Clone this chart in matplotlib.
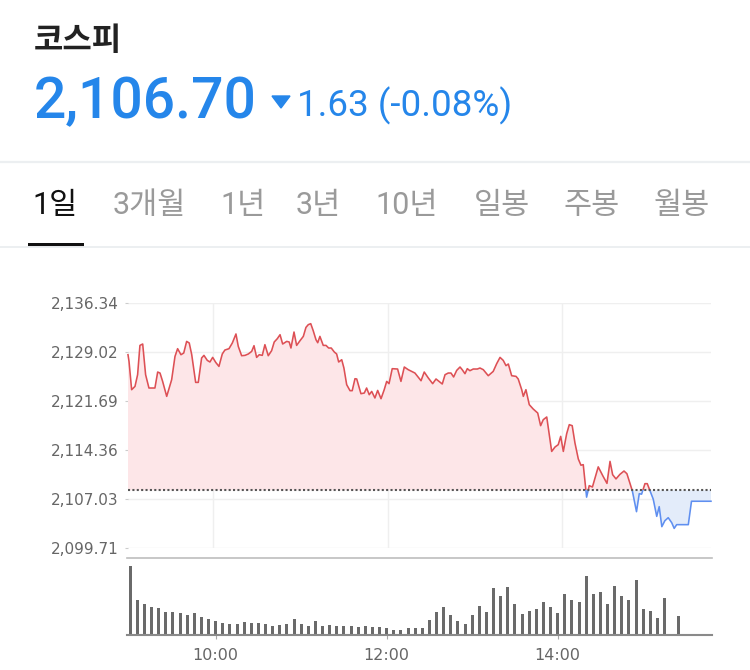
import numpy as np
import matplotlib
matplotlib.use("Agg")
import matplotlib.pyplot as plt
from matplotlib.patches import Rectangle, Polygon
from matplotlib.lines import Line2D

# ---------------- data ----------------
title = "코스피"
price_now = "2,106.70"
change_txt = "1.63 (-0.08%)"
tabs = ["1일", "3개월", "1년", "3년", "10년", "일봉", "주봉", "월봉"]
prev_close = 2108.33
yticks = [2099.71, 2107.03, 2114.36, 2121.69, 2129.02, 2136.34]
ytick_labels = ["2,099.71", "2,107.03", "2,114.36", "2,121.69", "2,129.02", "2,136.34"]
xtick_minutes = [60, 180, 300]          # minutes after 09:00
xtick_labels = ["10:00", "12:00", "14:00"]

# intraday price (minutes after 09:00, index level)
minutes = [1.6, 2.3, 4.1, 6.4, 8.2, 9.8, 11.7, 13.7, 16.0, 20.1, 22.0, 23.6, 25.4, 28.2,
           31.6, 33.9, 35.7, 38.0, 39.9, 41.9, 43.7, 45.4, 48.1, 49.9, 52.2, 53.8, 56.1,
           57.9, 59.8, 61.9, 64.1, 66.4, 68.2, 71.0, 73.3, 75.8, 77.4, 79.7, 82.0, 84.3,
           86.6, 88.2, 90.0, 91.8, 93.9, 95.7, 98.0, 100.3, 102.1, 104.2, 106.1, 107.9,
           110.7, 112.4, 113.6, 115.7, 117.5, 119.8, 122.1, 123.9, 125.5, 127.2, 128.9,
           130.8, 132.0, 133.5, 135.8, 137.7, 139.5, 141.3, 143.4, 145.0, 146.4, 148.5,
           150.0, 151.9, 154.2, 155.7, 157.6, 158.8, 161.7, 164.0, 165.6, 167.4, 169.1,
           171.3, 173.2, 175.5, 177.7, 179.4, 181.0, 183.2, 186.9, 189.2, 191.5, 194.2,
           198.8, 203.0, 205.2, 208.0, 211.0, 213.3, 217.6, 219.5, 221.7, 223.6, 225.4,
           227.5, 229.8, 231.3, 233.2, 234.8, 236.6, 238.9, 241.7, 243.5, 245.8, 249.2,
           252.6, 255.0, 257.3, 259.5, 261.4, 263.0, 265.3, 268.3, 269.8, 272.2, 273.3,
           275.1, 277.4, 280.1, 283.2, 285.2, 287.0, 289.4, 292.8, 295.1, 297.3, 299.0,
           300.8, 303.1, 304.9, 306.9, 308.8, 311.1, 312.9, 314.5, 316.8, 318.6, 320.8,
           324.8, 328.0, 330.8, 332.9, 334.7, 337.0, 339.7, 342.5, 344.5, 348.2, 351.1,
           353.0, 354.6, 356.9, 358.5, 360.6, 362.6, 365.0, 366.7, 368.5, 370.6, 372.9,
           375.3, 377.0, 378.7, 386.7, 388.9, 402.3]
prices = [2128.61, 2127.61, 2123.38, 2123.87, 2125.62, 2130.00, 2130.21, 2125.62, 2123.63,
          2123.63, 2126.02, 2125.87, 2124.62, 2122.38, 2124.87, 2128.36, 2129.51, 2128.61,
          2128.86, 2130.60, 2130.36, 2128.61, 2124.47, 2124.47, 2128.12, 2128.51, 2127.76,
          2127.52, 2128.21, 2127.46, 2126.86, 2128.72, 2129.31, 2129.51, 2130.36, 2131.71,
          2129.85, 2128.46, 2128.51, 2128.72, 2129.10, 2129.96, 2128.21, 2128.61, 2128.51,
          2130.11, 2128.46, 2129.21, 2130.51, 2131.00, 2131.60, 2130.21, 2130.60, 2130.51,
          2129.61, 2132.00, 2130.00, 2130.70, 2131.35, 2132.69, 2133.10, 2133.25, 2132.20,
          2130.85, 2130.40, 2131.35, 2130.00, 2130.00, 2129.61, 2129.61, 2129.01, 2128.72,
          2127.52, 2127.86, 2126.62, 2124.13, 2123.23, 2123.23, 2125.02, 2124.98, 2122.78,
          2122.88, 2123.63, 2122.63, 2123.12, 2122.14, 2123.27, 2122.03, 2123.38, 2124.62,
          2124.28, 2126.52, 2126.47, 2124.62, 2126.77, 2126.37, 2125.87, 2124.72, 2126.02,
          2125.13, 2124.28, 2124.98, 2124.23, 2125.62, 2125.87, 2125.87, 2125.28, 2126.26,
          2126.77, 2126.37, 2125.77, 2126.52, 2126.22, 2126.47, 2126.47, 2126.62, 2126.37,
          2125.47, 2126.11, 2127.27, 2128.21, 2127.76, 2126.97, 2127.22, 2125.47, 2125.37,
          2124.98, 2123.38, 2122.38, 2123.38, 2121.14, 2120.49, 2119.89, 2118.00, 2118.89,
          2119.30, 2114.15, 2114.81, 2115.16, 2116.40, 2114.15, 2116.80, 2118.15, 2118.00,
          2115.41, 2113.02, 2112.09, 2112.17, 2107.31, 2109.03, 2108.83, 2111.84, 2110.48,
          2109.37, 2112.66, 2110.67, 2110.04, 2110.72, 2111.22, 2110.82, 2108.28, 2105.14,
          2107.83, 2107.76, 2109.33, 2109.33, 2108.13, 2107.01, 2104.44, 2105.89, 2102.90,
          2103.79, 2104.24, 2103.49, 2102.64, 2103.20, 2103.20, 2106.70, 2106.70]

# 5-minute volume bars (minutes after 09:00, relative volume)
vol_minutes = list(range(0, 390, 5))
volumes = [693, 350, 307, 277, 267, 233, 233, 223, 200, 223, 180, 160, 140, 117, 110, 110,
           127, 117, 117, 110, 93, 103, 110, 160, 107, 90, 137, 90, 97, 90, 90, 90, 83, 90,
           83, 77, 73, 47, 47, 67, 67, 67, 150, 227, 277, 200, 140, 110, 200, 293, 233, 467,
           390, 477, 307, 210, 243, 257, 327, 277, 223, 407, 350, 327, 593, 407, 427, 307,
           490, 390, 350, 550, 257, 243, 173, 367, 0, 190]

# ---------------- style ----------------
W, H = 750, 670
RED, PINK = "#dd5055", "#fde6e8"
BLUE, LBLUE = "#5f8ff0", "#e3ecfa"
TXT_BLUE = "#2586ea"
GRID = "#efefef"
LBL = "#666666"

fig = plt.figure(figsize=(W / 100, H / 100), dpi=100)
fig.patch.set_facecolor("white")


def fx(x):
    return x / W


def fy(y):
    return 1 - y / H


def hline(y, x0, x1, color, lw):
    fig.add_artist(Line2D([fx(x0), fx(x1)], [fy(y), fy(y)], color=color, lw=lw,
                          transform=fig.transFigure, solid_capstyle="butt"))


# ---------------- header ----------------
fig.text(fx(34), fy(41), title, fontsize=23, fontweight="bold", color="#222222",
         family=["Noto Sans CJK KR"], ha="left", va="center")
fig.text(fx(34), fy(118), price_now, fontsize=41, fontweight="medium", color=TXT_BLUE,
         family=["Roboto", "DejaVu Sans"], ha="left", va="baseline")
fig.add_artist(Polygon([[fx(272), fy(96)], [fx(290), fy(96)], [fx(281), fy(108)]],
                       closed=True, color=TXT_BLUE, transform=fig.transFigure))
fig.text(fx(297), fy(116), change_txt, fontsize=26.5, color=TXT_BLUE,
         family=["Roboto", "DejaVu Sans"], ha="left", va="baseline")
hline(162, 0, W, "#eceff1", 1.6)

tab_centers = [55, 149, 243, 318, 407, 502, 592, 682]
for i, (lab, cx) in enumerate(zip(tabs, tab_centers)):
    fig.text(fx(cx), fy(205), lab, fontsize=22, color="#111111" if i == 0 else "#9a9a9a",
             family=["Roboto", "Noto Sans CJK KR"], ha="center", va="center")
hline(246.5, 0, W, "#eceff1", 1.4)
fig.add_artist(Rectangle((fx(28), fy(247)), fx(84) - fx(28), fy(243) - fy(247),
                         color="#111111", transform=fig.transFigure, lw=0))

# ---------------- price chart ----------------
px0, px1, py0, py1 = 128, 711, 303, 548
ax = fig.add_axes([fx(px0), fy(py1), fx(px1) - fx(px0), fy(py0) - fy(py1)])
t = np.array(minutes)
p = np.array(prices)
xmin, xmax = 1.6, 402.3
ax.set_xlim(xmin, xmax)
ax.set_ylim(yticks[0], yticks[-1])

ax.fill_between(t, p, prev_close, where=p >= prev_close, interpolate=True,
                color=PINK, lw=0, zorder=1)
ax.fill_between(t, p, prev_close, where=p <= prev_close, interpolate=True,
                color=LBLUE, lw=0, zorder=1)
red_line, = ax.plot(t, p, color=RED, lw=1.15, zorder=3, solid_joinstyle="round")
blue_line, = ax.plot(t, p, color=BLUE, lw=1.15, zorder=3, solid_joinstyle="round")
clip_up = Rectangle((xmin - 10, prev_close), xmax - xmin + 20, 100, transform=ax.transData)
clip_dn = Rectangle((xmin - 10, prev_close - 100), xmax - xmin + 20, 100, transform=ax.transData)
red_line.set_clip_path(clip_up)
blue_line.set_clip_path(clip_dn)

ax.axhline(prev_close, color="#555555", lw=1.5, ls=(0, (1, 1.1)), zorder=4)

ax.set_yticks(yticks)
ax.set_yticklabels(ytick_labels)
ax.set_xticks(xtick_minutes)
ax.tick_params(axis="x", length=0, labelbottom=False)
ax.tick_params(axis="y", length=2.5, color="#cccccc", pad=4, labelsize=11, labelcolor=LBL)
for lbl in ax.get_yticklabels():
    lbl.set_family("DejaVu Sans")
ax.grid(True, color=GRID, lw=1.0, zorder=0)
ax.set_axisbelow(True)
for s in ax.spines.values():
    s.set_visible(False)
ax.patch.set_alpha(0)

# ---------------- volume chart ----------------
vx0, vx1, vy0, vy1 = 126.7, 711.7, 557.7, 635
axv = fig.add_axes([fx(vx0), fy(vy1), fx(vx1) - fx(vx0), fy(vy0) - fy(vy1)])
axv.bar(vol_minutes, volumes, width=2.1, color="#6a6a6a", align="center", zorder=2)
axv.set_xlim(-2.46, 408.1)
axv.set_ylim(0, max(volumes) * 77.3 / 69.3)
axv.set_yticks([])
axv.set_xticks(xtick_minutes)
axv.set_xticklabels(xtick_labels)
axv.tick_params(axis="x", length=3, color="#aaaaaa", pad=6, labelsize=11.5, labelcolor=LBL)
for s in ["left", "right"]:
    axv.spines[s].set_visible(False)
axv.spines["top"].set_color("#bdbdbd")
axv.spines["top"].set_linewidth(1.2)
axv.spines["bottom"].set_color("#8a8a8a")
axv.spines["bottom"].set_linewidth(1.5)
axv.patch.set_alpha(0)

fig.savefig("out.png", dpi=100, facecolor="white")
